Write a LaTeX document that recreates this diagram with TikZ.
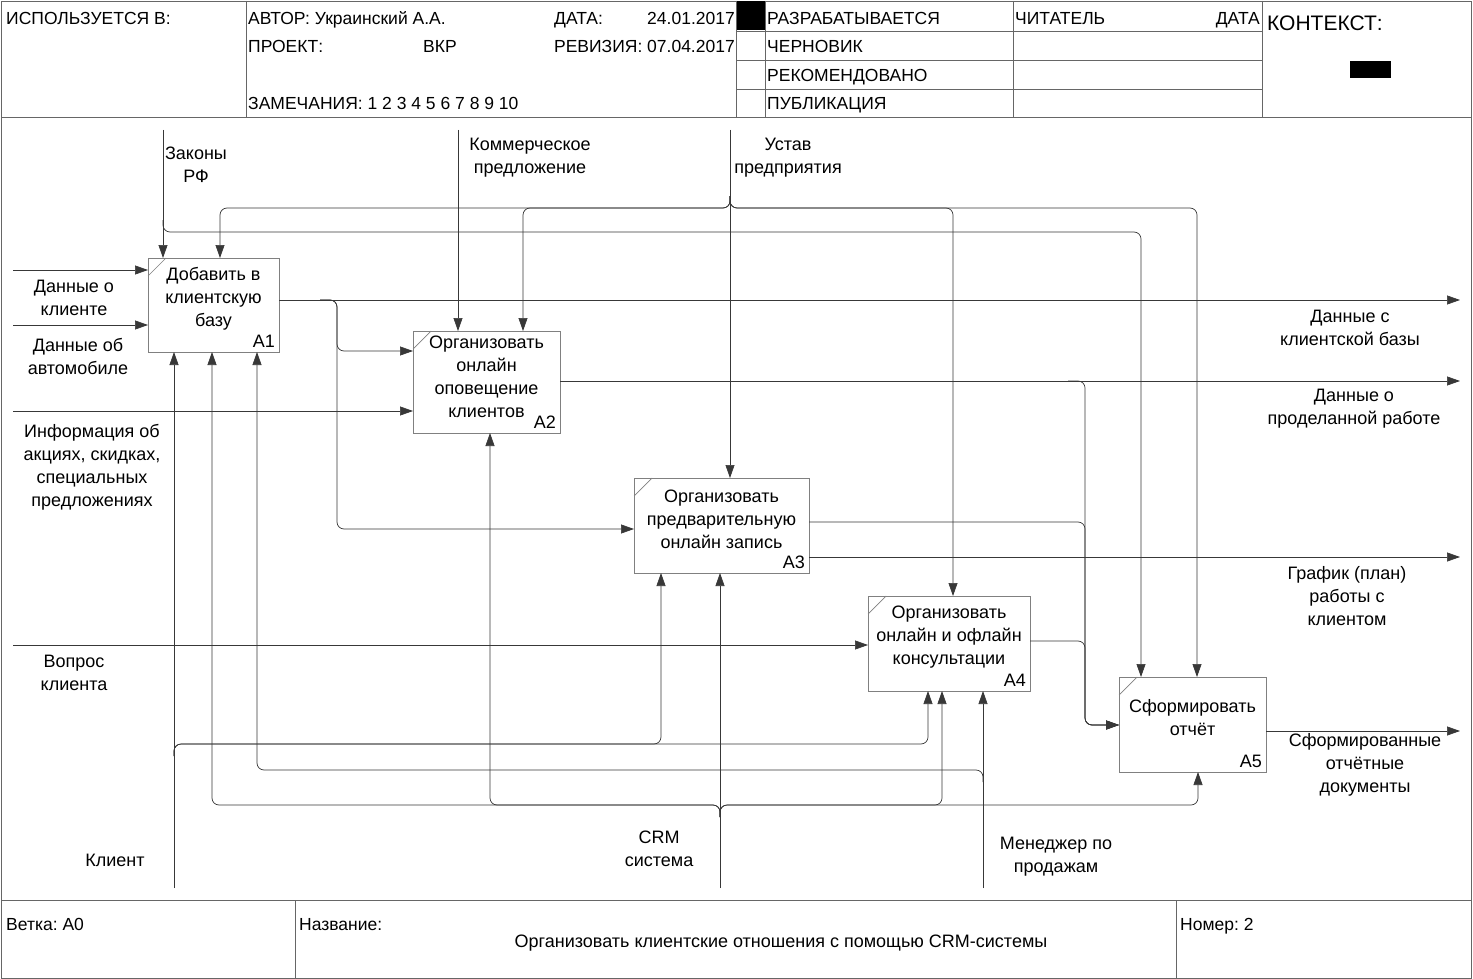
\documentclass[tikz,border=0pt]{standalone}
\usepackage{fontspec}
\setmainfont{Liberation Sans}
\usetikzlibrary{arrows.meta}
\begin{document}
\frenchspacing
\begin{tikzpicture}[x=1pt,y=-1pt,
  conn/.style={draw=black!78, line width=0.7pt, rounded corners=7pt},
  arr/.style={conn, -{Triangle[length=13pt,width=9pt]}},
  frame/.style={draw=black!60, line width=0.8pt},
  procbox/.style={draw=black!50, line width=0.8pt, rectangle, inner sep=0pt, outer sep=0pt},
  boxtext/.style={align=center, font=\fontsize{18}{23}\selectfont, inner sep=0pt},
  lbl/.style={align=center, font=\fontsize{18}{23}\selectfont, inner sep=0pt},
  num/.style={anchor=south east, font=\fontsize{18}{20}\selectfont, inner sep=0pt},
  hdr/.style={anchor=base west, font=\fontsize{17.5}{20}\selectfont, inner sep=0pt},
  hdre/.style={anchor=base east, font=\fontsize{17.5}{20}\selectfont, inner sep=0pt},
]
\useasboundingbox (0,0) rectangle (1473,979);
\fill[white] (0,0) rectangle (1473,979);

% ---------- frame ----------
\draw[frame] (1,1) rectangle (1471,978);
\draw[frame] (1,117) -- (1471,117);
\draw[frame] (1,900) -- (1471,900);
\draw[frame] (246,1) -- (246,117);
\draw[frame] (736,1) -- (736,117);
\draw[frame] (765,1) -- (765,117);
\draw[frame] (1013,1) -- (1013,117);
\draw[frame] (1262,1) -- (1262,117);
\draw[frame] (736,31) -- (1262,31);
\draw[frame] (736,60) -- (1262,60);
\draw[frame] (736,89) -- (1262,89);
\draw[frame] (295,900) -- (295,978);
\draw[frame] (1176,900) -- (1176,978);
\fill[black] (737,1) rectangle (765,30);
\fill[black] (1350,61) rectangle (1391,78);

% ---------- header texts ----------
\node[hdr] (hUsed) at (6,25) {ИСПОЛЬЗУЕТСЯ В:};
\node[hdr] (hAuth) at (248,25) {АВТОР: Украинский А.А.};
\node[hdr] (hDate) at (554,25) {ДАТА:};
\node[hdre] (hDateV) at (735,25) {24.01.2017};
\node[hdr] (hProj) at (248,53) {ПРОЕКТ:};
\node[hdr] (hProjV) at (423,53) {ВКР};
\node[hdre] (hRev) at (735,53) {РЕВИЗИЯ: 07.04.2017};
\node[hdr] (hNotes) at (248,110) {ЗАМЕЧАНИЯ: 1 2 3 4 5 6 7 8 9 10};
\node[hdr] (hS1) at (767,25) {РАЗРАБАТЫВАЕТСЯ};
\node[hdr] (hS2) at (767,53) {ЧЕРНОВИК};
\node[hdr] (hS3) at (767,82) {РЕКОМЕНДОВАНО};
\node[hdr] (hS4) at (767,110) {ПУБЛИКАЦИЯ};
\node[hdr] (hReader) at (1015,25) {ЧИТАТЕЛЬ};
\node[hdre] (hRDate) at (1260,25) {ДАТА};
\node[anchor=base west, font=\fontsize{21}{24}\selectfont, inner sep=0pt] (hCtx) at (1267,31) {КОНТЕКСТ:};

% ---------- footer texts ----------
\node[hdr] (fNode) at (6,930) {Ветка: A0};
\node[hdr] (fTitleL) at (299,930) {Название:};
\node[anchor=base, font=\fontsize{18}{20}\selectfont, inner sep=0pt] (fTitle) at (781,947) {Организовать клиентские отношения с помощью CRM-системы};
\node[hdr] (fNum) at (1180,930) {Номер: 2};

% ---------- boxes ----------
\node[procbox, minimum width=131pt, minimum height=94pt] (A1) at (213.5,305) {};
\node[procbox, minimum width=147pt, minimum height=102pt] (A2) at (486.5,382) {};
\node[procbox, minimum width=175pt, minimum height=95pt] (A3) at (721.5,525.5) {};
\node[procbox, minimum width=162pt, minimum height=95pt] (A4) at (949,643.5) {};
\node[procbox, minimum width=147pt, minimum height=95pt] (A5) at (1192.5,724.5) {};

\foreach \b in {A1,A2,A3,A4,A5}{
  \draw[draw=black!50, line width=0.7pt] (\b.north west) ++(0,18) -- ++(18,-18);
  \node[num] (\b n) at ([xshift=-4pt,yshift=4pt]\b.south east) {\b};
}

\node[boxtext] (A1t) at ([yshift=6.5pt]A1.center) {Добавить в\\клиентскую\\базу};
\node[boxtext] (A2t) at ([yshift=5.5pt]A2.center) {Организовать\\онлайн\\оповещение\\клиентов};
\node[boxtext] (A3t) at ([yshift=6pt]A3.center) {Организовать\\предварительную\\онлайн запись};
\node[boxtext] (A4t) at ([yshift=6.5pt]A4.center) {Организовать\\онлайн и офлайн\\консультации};
\node[boxtext] (A5t) at ([yshift=6.5pt]A5.center) {Сформировать\\отчёт};

% ---------- free ends ----------
\coordinate (cZak) at (163,130);
\coordinate (cKom) at (458,130);
\coordinate (cUst) at (730,130);
\coordinate (iD1) at (13,270);
\coordinate (iD2) at (13,325);
\coordinate (iInf) at (13,411);
\coordinate (iVop) at (13,645);
\coordinate (mKl) at (174,888);
\coordinate (mCrm) at (720,888);
\coordinate (mMen) at (983,888);
\coordinate (oKB) at (1460,300);
\coordinate (oPR) at (1460,381);
\coordinate (oGR) at (1460,557);
\coordinate (oSF) at (1460,731);

% ---------- controls ----------
\draw[arr] (cZak) -- (cZak |- A1.north);
\draw[arr] ([yshift=-90pt]cZak) -- (163,232) -- (1141,232) -- ([xshift=-51.5pt]A5.north);
\draw[arr] (cKom) -- (cKom |- A2.north);
\draw[arr] (cUst) -- (cUst |- A3.north);
\draw[arr] ([yshift=-66pt]cUst) -- (730,208) -- (220,208) -- ([xshift=6.5pt]A1.north);
\draw[arr] ([yshift=-66pt]cUst) -- (730,208) -- (523,208) -- ([xshift=36.5pt]A2.north);
\draw[arr] ([yshift=-66pt]cUst) -- (730,208) -- (953,208) -- ([xshift=4pt]A4.north);
\draw[arr] ([yshift=-66pt]cUst) -- (730,208) -- (1197,208) -- ([xshift=4.5pt]A5.north);

% ---------- mechanisms ----------
\draw[arr] (mKl) -- (mKl |- A1.south);
\draw[arr] ([yshift=132pt]mKl) -- (174,744) -- (661,744) -- ([xshift=-60.5pt]A3.south);
\draw[arr] ([yshift=132pt]mKl) -- (174,744) -- (928,744) -- ([xshift=-21pt]A4.south);
\draw[arr] (mCrm) -- (mCrm |- A3.south);
\draw[arr] ([yshift=71pt]mCrm) -- (720,805) -- (212,805) -- ([xshift=-1.5pt]A1.south);
\draw[arr] ([yshift=71pt]mCrm) -- (720,805) -- (490,805) -- ([xshift=3.5pt]A2.south);
\draw[arr] ([yshift=71pt]mCrm) -- (720,805) -- (942,805) -- ([xshift=-7pt]A4.south);
\draw[arr] ([yshift=71pt]mCrm) -- (720,805) -- (1198,805) -- ([xshift=5.5pt]A5.south);
\draw[arr] (mMen) -- (mMen |- A4.south);
\draw[arr] ([yshift=106pt]mMen) -- (983,770) -- (257,770) -- ([xshift=43.5pt]A1.south);

% ---------- inputs ----------
\draw[arr] (iD1) -- (iD1 -| A1.west);
\draw[arr] (iD2) -- (iD2 -| A1.west);
\draw[arr] (iInf) -- (iInf -| A2.west);
\draw[arr] (iVop) -- (iVop -| A4.west);

% ---------- outputs ----------
\draw[arr] (oKB -| A1.east) -- (oKB);
\draw[arr] ([xshift=41pt]oKB -| A1.east) -- (337,300) -- (337,351) -- ([yshift=31pt]A2.west);
\draw[arr] ([xshift=41pt]oKB -| A1.east) -- (337,300) -- (337,529) -- ([yshift=-3.5pt]A3.west);
\draw[arr] (oPR -| A2.east) -- (oPR);
\draw[arr] (1068,381) -- (1085,381) -- (1085,725) -- ([yshift=-0.5pt]A5.west);
\draw[arr] ([yshift=3.5pt]A3.east) -- (1085,522) -- (1085,725) -- ([yshift=-0.5pt]A5.west);
\draw[arr] (oGR -| A3.east) -- (oGR);
\draw[arr] ([yshift=2.5pt]A4.east) -- (1085,641) -- (1085,725) -- ([yshift=-0.5pt]A5.west);
\draw[arr] (oSF -| A5.east) -- (oSF);

% ---------- arrow labels ----------
\node[lbl] (lZak) at (196,164.5) {Законы\\РФ};
\node[lbl] (lKom) at (530,157.5) {Коммерческое\\предложение};
\node[lbl] (lUst) at (788,157.5) {Устав\\предприятия};
\node[lbl] (lD1) at (74,297.5) {Данные о\\клиенте};
\node[lbl] (lD2) at (78,356.5) {Данные об\\автомобиле};
\node[lbl] (lInf) at (92,467.5) {Информация об\\акциях, скидках,\\специальных\\предложениях};
\node[lbl] (lVop) at (74,673) {Вопрос\\клиента};
\node[lbl] (lKl) at (115,860) {Клиент};
\node[lbl] (lCrm) at (659,848.5) {CRM\\система};
\node[lbl] (lMen) at (1056,856.5) {Менеджер по\\продажам};
\node[lbl] (lKB) at (1350,327.5) {Данные с\\клиентской базы};
\node[lbl] (lPR) at (1354,408.5) {Данные о\\проделанной работе};
\node[lbl] (lGR) at (1347,596) {График (план)\\работы с\\клиентом};
\node[lbl] (lSF) at (1365,765) {Сформированные\\отчётные\\документы};
\end{tikzpicture}
\end{document}
